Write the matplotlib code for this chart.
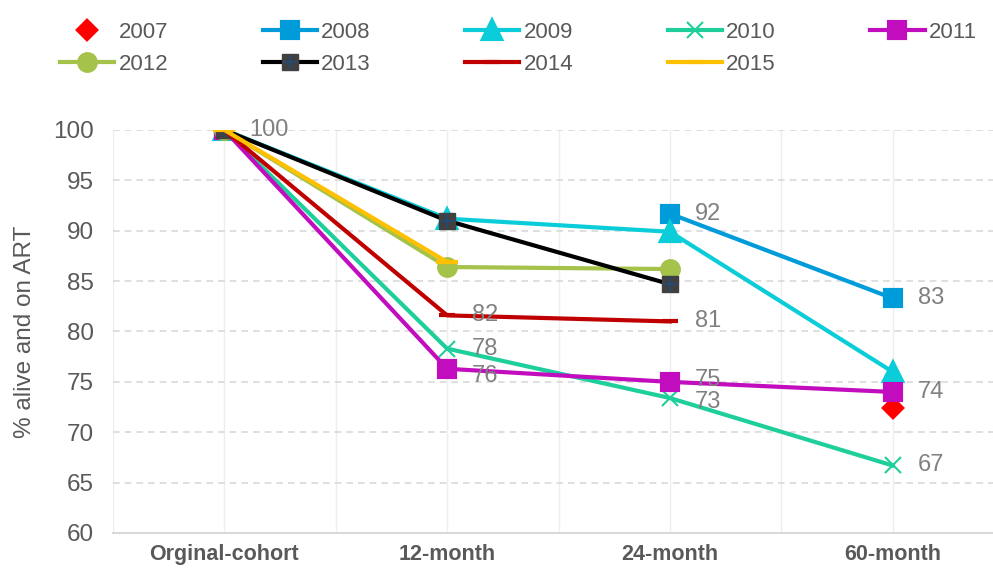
import numpy as np
import matplotlib.pyplot as plt
from matplotlib.lines import Line2D

# --- data ---
categories = ["Orginal-cohort", "12-month", "24-month", "60-month"]
nan = np.nan
y2007 = [nan, nan, nan, 72.4]
y2008 = [100, nan, 91.7, 83.3]
y2009 = [100, 91.2, 89.9, 76.0]
y2010 = [100, 78.3, 73.4, 66.7]
y2011 = [100, 76.3, 75.0, 74.0]
y2012 = [100, 86.4, 86.2, nan]
y2013 = [100, 91.0, 84.7, nan]
y2014 = [100, 81.6, 81.0, nan]
y2015 = [100, 86.9, nan, nan]

# which points get a value label: (series, index, dy in points)
label_points = [("2013", 0, 0), ("2014", 1, 0), ("2010", 1, 0), ("2011", 1, -5),
                ("2008", 2, 0), ("2014", 2, 0), ("2011", 2, 1), ("2010", 2, -3),
                ("2008", 3, 0), ("2011", 3, 0), ("2010", 3, 0)]

series = {
    "2007": dict(y=y2007, color="#FF0000", marker="D", ms=9, ls="none"),
    "2008": dict(y=y2008, color="#009CDA", marker="s", ms=12, ls="-"),
    "2009": dict(y=y2009, color="#0BCDD9", marker="^", ms=13, ls="-"),
    "2010": dict(y=y2010, color="#1ECF9B", marker="x", ms=12, ls="-"),
    "2011": dict(y=y2011, color="#C10DBE", marker="s", ms=12, ls="-"),
    "2012": dict(y=y2012, color="#A5C24A", marker="o", ms=12, ls="-"),
    "2013": dict(y=y2013, color="#000000", marker="s", ms=12, ls="-"),
    "2014": dict(y=y2014, color="#C00000", marker="_", ms=11, ls="-"),
    "2015": dict(y=y2015, color="#FFC000", marker="_", ms=16, ls="-"),
}

plt.rcParams['font.family'] = ['Liberation Sans', 'DejaVu Sans']
grey = "#595959"

fig = plt.figure(figsize=(9.93, 5.70), dpi=100)
ax = fig.add_axes([113 / 993, 1 - 533 / 570, 891 / 993, 403 / 570])

x = np.arange(len(categories))
handles = []
for name, s in series.items():
    if name == "2013":
        ax.plot(x, s["y"], color="#000000", lw=3, marker="s", ms=s["ms"],
                mfc="#404040", mec="#404040", zorder=3)
        ax.plot(x, s["y"], ls="none", marker="+", ms=10, mew=1.2, color="#1F4E79", zorder=3)
        h = (Line2D([], [], color="#000000", lw=3, marker="s", ms=s["ms"], mfc="#404040", mec="#404040"),
             Line2D([], [], ls="none", marker="+", ms=10, mew=1.2, color="#1F4E79"))
    else:
        mew = 1.5 if s["marker"] == "x" else 3
        ax.plot(x, s["y"], color=s["color"], lw=3, ls=s["ls"], marker=s["marker"],
                ms=s["ms"], mew=mew, zorder=3)
        h = Line2D([], [], color=s["color"], lw=3, ls=s["ls"], marker=s["marker"],
                   ms=s["ms"], mew=mew)
    handles.append(h)

for name, i, dy in label_points:
    v = series[name]["y"][i]
    ax.annotate(f"{round(v)}", (x[i], v), xytext=(18, dy), textcoords="offset points",
                ha="left", va="center", fontsize=17, color="#808080", zorder=4)

ax.set_xlim(-0.5, 3.5)
ax.set_ylim(60, 100)
ax.set_yticks(np.arange(60, 101, 5))
ax.set_xticks(x)
ax.set_xticks(np.arange(-0.5, 3.6, 0.5), minor=True)
ax.set_xticklabels(categories, fontsize=15.5, fontweight="bold", color=grey)
ax.tick_params(axis="both", length=0, pad=8)
ax.tick_params(axis="y", labelsize=17.5, labelcolor=grey, pad=14)
ax.tick_params(axis="x", which="minor", length=0)
ax.yaxis.grid(True, ls=(0, (4, 3)), color="#D9D9D9", lw=1.2)
ax.xaxis.grid(True, which="both", color="#EEEEEE", lw=1)
ax.set_axisbelow(True)
for sp in ["top", "right", "left"]:
    ax.spines[sp].set_visible(False)
ax.spines["bottom"].set_color("#D9D9D9")
ax.spines["bottom"].set_linewidth(1.5)
ax.set_ylabel("% alive and on ART", fontsize=17.5, color=grey, labelpad=12)

# legend filled row by row (matplotlib fills column by column)
names = list(series.keys())
order = [0, 5, 1, 6, 2, 7, 3, 8, 4]
fig.legend([handles[i] for i in order], [names[i] for i in order], ncol=5, loc="upper left",
           bbox_to_anchor=(60 / 993, 1 - 22 / 570), frameon=False, fontsize=16,
           handlelength=2.45, handletextpad=0.18, columnspacing=4.25, labelspacing=0.5,
           borderpad=0, borderaxespad=0, labelcolor=grey)

fig.savefig("out.png", dpi=100)
